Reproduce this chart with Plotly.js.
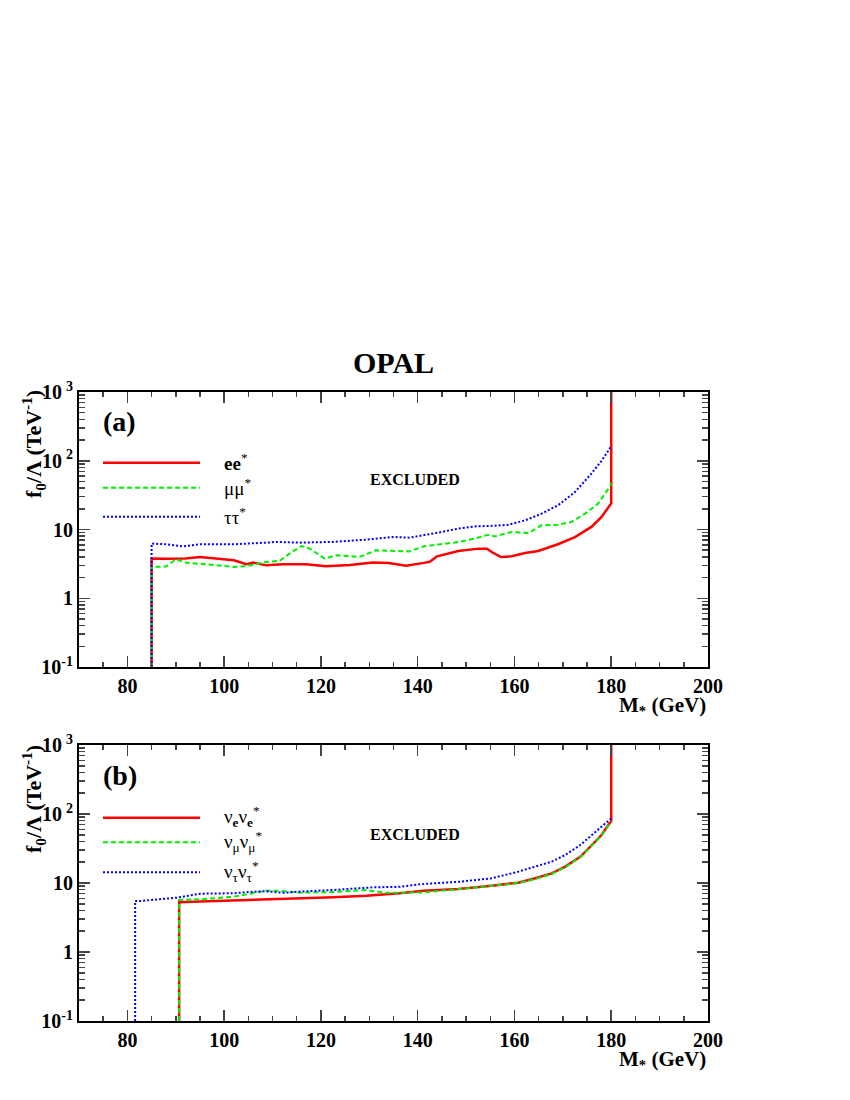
<!DOCTYPE html>
<html>
<head>
<meta charset="utf-8">
<script src="https://cdn.plot.ly/plotly-3.0.1.min.js"></script>
<style>
  body { margin: 0; background: #fff; }
  #graph { width: 850px; height: 1100px; }
</style>
</head>
<body>
<div id="graph"></div>
<script>
// panel (a): charged leptons
const eeX = [85, 85, 88, 92, 95, 98, 102, 104.6, 106, 108.7, 112, 117, 121, 126, 130.7, 134, 137.6, 141.3, 142.5, 144, 148.4, 152.6, 154.3, 155.3, 157.2, 159.4, 162.2, 164.9, 169, 172.5, 175.9, 178, 179.7, 180, 180];
const eeY = [0.1, 3.78, 3.75, 3.8, 3.98, 3.8, 3.56, 3.12, 3.3, 3.01, 3.12, 3.12, 2.92, 3.05, 3.3, 3.25, 2.98, 3.27, 3.4, 4.07, 4.87, 5.27, 5.27, 4.7, 3.98, 4.08, 4.55, 4.87, 6.1, 7.76, 10.9, 15.2, 23.3, 24, 1000];

const mmX = [85, 85, 88, 90, 92.3, 96.4, 101.9, 104.6, 108.7, 111.5, 113.5, 116, 117.7, 120.8, 123.2, 128, 131.4, 138.3, 141.3, 144.9, 148.4, 151.8, 154.6, 156, 159.4, 162.9, 165.6, 169, 171.8, 174.6, 177.3, 179.5, 180];
const mmY = [0.1, 2.85, 2.9, 3.68, 3.27, 3.12, 2.85, 2.92, 3.37, 3.5, 4.46, 5.75, 5.27, 3.78, 4.22, 4.0, 4.98, 4.8, 5.7, 6.1, 6.58, 7.37, 8.4, 7.95, 9.2, 8.9, 11.5, 11.7, 12.9, 17, 23.8, 40, 47];

const ttX = [85, 85, 88, 91.5, 95, 102, 108.7, 110.8, 115.6, 122.5, 129.4, 134.9, 138.3, 141.3, 144.9, 148.4, 151.8, 155.3, 158.7, 162.2, 165.6, 169, 172.5, 175.9, 178, 180];
const ttY = [0.1, 6.24, 6.1, 5.7, 6.1, 6.1, 6.44, 6.6, 6.44, 6.6, 7.13, 7.78, 7.6, 8.24, 9.2, 10.3, 11.1, 11.3, 11.7, 13.6, 17, 22.5, 35, 65, 100, 162];

// panel (b): neutrinos
const nueX = [90.7, 90.7, 95, 102, 108.7, 115.6, 122.5, 129.4, 136.2, 141.3, 148.4, 155.3, 160.8, 164.3, 167.7, 170.5, 173.6, 176, 178, 179.6, 180, 180];
const nueY = [0.1, 5.25, 5.4, 5.6, 5.7, 5.86, 6.2, 6.55, 7.1, 7.74, 8.2, 9.15, 10.1, 11.7, 13.8, 17.3, 24, 35.5, 49.6, 73, 78, 1000];

const numX = [90.7, 90.7, 95, 102, 108.7, 110.8, 115.6, 122.5, 129.4, 133.5, 141.3, 148.4, 155.3, 160.8, 164.3, 167.7, 170.5, 173.6, 176, 178, 180];
const numY = [0.1, 5.67, 5.8, 6.34, 7.74, 7.74, 7.24, 7.4, 7.9, 7.2, 7.3, 8.1, 9.1, 10.0, 11.4, 13.5, 17, 23.5, 35, 49, 78];

const nutX = [81.6, 81.6, 82.6, 90.2, 95, 101.9, 106, 108.7, 112.2, 115.6, 122.5, 128, 130.7, 136.2, 141.3, 148.4, 155.3, 160.8, 164.3, 167.7, 170.5, 173.6, 176, 178, 180];
const nutY = [0.1, 5.48, 5.48, 6.12, 7.0, 7.1, 7.48, 7.6, 7.2, 7.5, 7.92, 8.3, 8.65, 8.8, 9.7, 10.4, 11.7, 14.6, 17.3, 20.4, 25.5, 35.5, 49.6, 65.5, 86.6];

// labels
const labelsA = ["<b>ee</b><sup>*</sup>", "μμ<sup>*</sup>", "ττ<sup>*</sup>"];
const labelsB = ["ν<sub><b>e</b></sub>ν<sub><b>e</b></sub><sup>*</sup>", "ν<sub>μ</sub>ν<sub>μ</sub><sup>*</sup>", "ν<sub>τ</sub>ν<sub>τ</sub><sup>*</sup>"];
const yTickVals = [0.1, 1, 10, 100, 1000];
const yTickText = ["10<sup>-1</sup>", "1", "10", "10\u2009<sup>2</sup>", "10\u2009<sup>3</sup>"];
const mantissas = [2, 3, 4, 5, 6, 7, 8, 9];

const FONT = 'Liberation Serif, Times New Roman, serif';
const colors = ['#ff0000', '#00ee00', '#0000ff'];
const dashes = ['solid', '5px,3px', '2px,2px'];

var minorVals = [];
[0.1, 1, 10, 100].forEach(d => mantissas.forEach(m => minorVals.push(m * d)));

function line(x, y, i, xa, ya) {
    return {
        x: x, y: y, xaxis: xa, yaxis: ya,
        mode: 'lines', showlegend: false, hoverinfo: 'skip',
        line: { color: colors[i], width: i === 0 ? 2.5 : 2, dash: dashes[i] }
    };
}

const traces = [
    line(eeX, eeY, 0, 'x', 'y'),
    line(mmX, mmY, 1, 'x', 'y'),
    line(ttX, ttY, 2, 'x', 'y'),
    line(nueX, nueY, 0, 'x2', 'y2'),
    line(numX, numY, 1, 'x2', 'y2'),
    line(nutX, nutY, 2, 'x2', 'y2')
];

function xAxis(anchor) {
    return {
        anchor: anchor, domain: [0, 1], range: [70, 200],
        tick0: 0, dtick: 20, ticks: 'inside', ticklen: 11, tickwidth: 1.5,
        minor: { dtick: 5, ticks: 'inside', ticklen: 5, tickwidth: 1.5 },
        showline: true, linewidth: 2, linecolor: '#000', mirror: 'ticks',
        showgrid: false, zeroline: false,
        tickfont: { family: FONT, size: 20, weight: 'bold', color: '#000' }
    };
}

function yAxis(anchor, domain) {
    return {
        anchor: anchor, domain: domain, type: 'log', range: [-1, 3],
        tickmode: 'array', tickvals: yTickVals, ticktext: yTickText,
        ticks: 'inside', ticklen: 11, tickwidth: 1.5,
        minor: { tickmode: 'array', tickvals: minorVals, ticks: 'inside', ticklen: 6, tickwidth: 1.5 },
        showline: true, linewidth: 2, linecolor: '#000', mirror: 'ticks',
        showgrid: false, zeroline: false,
        tickfont: { family: FONT, size: 20, weight: 'bold', color: '#000' }
    };
}

// page px -> paper coords
const px = v => (v - 79) / 629;
const py = v => 1 - v / 1100;

var shapes = [];
var annotations = [];

function addPanel(tag, labels, lineY, tagY, exclY, titleTop, xTitleY) {
    labels.forEach((t, i) => {
        shapes.push({
            type: 'line', xref: 'paper', yref: 'paper',
            x0: px(103), x1: px(200), y0: py(lineY[i]), y1: py(lineY[i]),
            line: { color: colors[i], width: i === 0 ? 2.5 : 2, dash: dashes[i] }
        });
        annotations.push({
            xref: 'paper', yref: 'paper', x: px(222), y: py(lineY[i] - 1),
            xanchor: 'left', yanchor: 'middle', showarrow: false, text: t,
            font: { family: FONT, size: 19, color: '#000' }
        });
    });
    annotations.push({
        xref: 'paper', yref: 'paper', x: px(101), y: py(tagY),
        xanchor: 'left', yanchor: 'middle', showarrow: false, text: '<b>' + tag + '</b>',
        font: { family: FONT, size: 28, color: '#000' }
    });
    annotations.push({
        xref: 'paper', yref: 'paper', x: px(415), y: py(exclY),
        xanchor: 'center', yanchor: 'middle', showarrow: false, text: '<b>EXCLUDED</b>',
        font: { family: FONT, size: 16, color: '#000' }
    });
    annotations.push({
        xref: 'paper', yref: 'paper', x: px(33), y: py(titleTop),
        xanchor: 'center', yanchor: 'top', showarrow: false, textangle: -90,
        text: '<b>f<sub>0</sub>/Λ (TeV<sup>-1</sup>)</b>',
        font: { family: FONT, size: 22, color: '#000' }
    });
    annotations.push({
        xref: 'paper', yref: 'paper', x: 1, y: py(xTitleY),
        xanchor: 'right', yanchor: 'middle', showarrow: false,
        text: '<b>M<sub>*</sub> (GeV)</b>',
        font: { family: FONT, size: 21, color: '#000' }
    });
}

addPanel('(a)', labelsA, [462.7, 487.7, 516.7], 422, 480, 388, 706);
addPanel('(b)', labelsB, [817.7, 842.3, 872.3], 775, 835, 743, 1060);

annotations.push({
    xref: 'paper', yref: 'paper', x: 0.5, y: py(362),
    xanchor: 'center', yanchor: 'middle', showarrow: false, text: '<b>OPAL</b>',
    font: { family: FONT, size: 30, color: '#000' }
});

const layout = {
    width: 850, height: 1100,
    margin: { l: 79, r: 142, t: 0, b: 0 },
    paper_bgcolor: '#fff', plot_bgcolor: '#fff',
    showlegend: false,
    xaxis: xAxis('y'),
    yaxis: yAxis('x', [py(667), py(392)]),
    xaxis2: xAxis('y2'),
    yaxis2: yAxis('x2', [py(1021), py(745)]),
    shapes: shapes,
    annotations: annotations
};

Plotly.newPlot('graph', traces, layout, { displayModeBar: false, staticPlot: true });
</script>
</body>
</html>
